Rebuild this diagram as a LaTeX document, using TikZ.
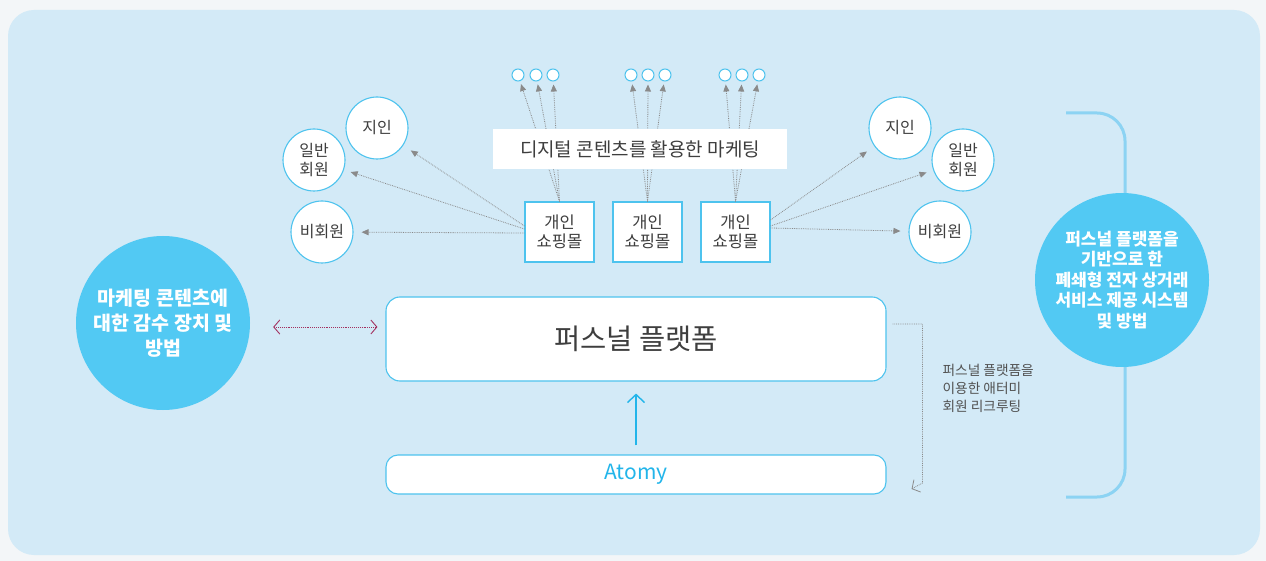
\documentclass[tikz,border=0pt]{standalone}
\usepackage{fontspec}
\setmainfont{Noto Sans CJK KR}
\usetikzlibrary{arrows.meta,positioning}
\definecolor{outerwhite}{HTML}{F3F6F8}
\definecolor{panelblue}{HTML}{D3EAF7}
\definecolor{edgecyan}{HTML}{4DC3EE}
\definecolor{bigblue}{HTML}{52C9F3}
\definecolor{bracketblue}{HTML}{8CD3F3}
\definecolor{atomycyan}{HTML}{22B5EA}
\definecolor{textgray}{HTML}{3E3E3E}
\definecolor{arrowgray}{HTML}{8A8A8A}
\definecolor{linkred}{HTML}{A3305F}
\tikzset{
  member/.style={circle, draw=edgecyan, fill=white, line width=1.1pt, minimum size=62pt, inner sep=0pt,
    align=center, text=textgray, font=\fontsize{16}{18.5}\selectfont},
  target/.style={circle, draw=edgecyan, fill=white, line width=1pt, minimum size=12pt, inner sep=0pt},
  shopbox/.style={rectangle, draw=edgecyan, fill=white, line width=1.1pt, minimum width=69pt, minimum height=60pt,
    inner sep=0pt, align=center, text=textgray, font=\fontsize{16.5}{19.5}\selectfont},
  platform/.style={rectangle, rounded corners=14pt, draw=edgecyan, fill=white, line width=1.1pt,
    minimum width=500pt, inner sep=0pt},
  bigcircle/.style={circle, fill=bigblue, minimum size=174pt, inner sep=0pt, align=center, text=white},
  reach/.style={arrowgray, densely dotted, line width=0.8pt, -{Triangle[length=7pt,width=6pt]}},
  duallink/.style={linkred, densely dotted, line width=0.9pt,
    {Straight Barb[length=6pt,width=14pt]}-{Straight Barb[length=6pt,width=14pt]}},
}

\begin{document}
\begin{tikzpicture}[x=1pt,y=-1pt]
   \useasboundingbox[fill=outerwhite] (0,0) rectangle (1266,561);
   \fill[panelblue, rounded corners=26pt] (8,10) rectangle (1260,555);
   % right bracket
   \draw[bracketblue, line width=3pt, rounded corners=28pt] (1066,113) -- (1125,113) -- (1125,497) -- (1066,497);

   % big circles
   \node[bigcircle, font=\bfseries\fontsize{19.5}{25}\selectfont] (claimL) at (163,323)
     {마케팅 콘텐츠에\\대한 감수 장치 및\\방법};
   \node[bigcircle, font=\bfseries\fontsize{17}{20.5}\selectfont] (claimR) at (1122,280)
     {퍼스널 플랫폼을\\기반으로 한\\폐쇄형 전자 상거래\\서비스 제공 시스템\\및 방법};

   % platform boxes
   \node[platform, minimum height=84pt, text=textgray, font=\fontsize{28.5}{32}\selectfont] (personal) at (636,339) {퍼스널 플랫폼};
   \node[platform, rounded corners=12pt, minimum height=39pt, text=atomycyan, font=\fontsize{21}{25}\selectfont] (atomy) at (636,474.5) {Atomy};
   \draw[atomycyan, line width=1.4pt, -{Straight Barb[length=8pt,width=17pt]}, shorten <=9pt, shorten >=12pt]
     (atomy.north) -- (personal.south);
   \draw[duallink] ([xshift=23pt,yshift=-4pt]claimL.east) -- ([xshift=-8pt,yshift=12pt]personal.west);
   \draw[arrowgray, densely dotted, line width=0.8pt, -{Straight Barb[length=6pt,width=14pt]}]
     ([xshift=6pt,yshift=15pt]personal.east) -| ([xshift=36pt,yshift=-8.5pt]atomy.east)
     -- ([xshift=25pt,yshift=-14.5pt]atomy.east);
   \node[anchor=west, align=left, text=textgray!90, font=\fontsize{13.7}{18}\selectfont] (recruit) at (939,388)
     {퍼스널 플랫폼을\\이용한 애터미\\회원 리크루팅};

   % personal shops
   \node[shopbox] (shopA) at (559.5,232) {개인\\쇼핑몰};
   \node[shopbox] (shopB) at (647.5,232) {개인\\쇼핑몰};
   \node[shopbox] (shopC) at (735.5,232) {개인\\쇼핑몰};

   % contents targets
   \node[target] (tA1) at (518,75) {};
   \node[target] (tA2) at (536,75) {};
   \node[target] (tA3) at (553,75) {};
   \node[target] (tB1) at (631,75) {};
   \node[target] (tB2) at (648,75) {};
   \node[target] (tB3) at (665,75) {};
   \node[target] (tC1) at (725,75) {};
   \node[target] (tC2) at (742,75) {};
   \node[target] (tC3) at (759,75) {};
   \foreach \s/\t in {shopA/tA1,shopA/tA2,shopA/tA3,shopB/tB1,shopB/tB2,shopB/tB3,shopC/tC1,shopC/tC2,shopC/tC3}
     \draw[reach, shorten >=3pt] (\s.north) -- (\t);
   \node[fill=white, minimum width=294pt, minimum height=40pt, inner sep=0pt, text=textgray,
     font=\fontsize{19}{22}\selectfont] (digital) at (640,149) {디지털 콘텐츠를 활용한 마케팅};

   % members
   \node[member] (friendL) at (377,128) {지인};
   \node[member] (regularL) at (314,160) {일반\\회원};
   \node[member] (guestL) at (322,232) {비회원};
   \node[member] (friendR) at (900,128) {지인};
   \node[member] (regularR) at (963,160) {일반\\회원};
   \node[member] (guestR) at (940,232) {비회원};
   \draw[reach, shorten >=9pt] ([yshift=6pt]shopA.west) -- (friendL);
   \draw[reach, shorten >=7pt] ([yshift=3pt]shopA.west) -- (regularL);
   \draw[reach, shorten >=8pt] ([yshift=-1pt]shopA.west) -- (guestL);
   \draw[reach, shorten >=9pt] ([yshift=12pt]shopC.east) -- (friendR);
   \draw[reach, shorten >=7pt] ([yshift=6pt]shopC.east) -- (regularR);
   \draw[reach, shorten >=8pt] ([yshift=4pt]shopC.east) -- (guestR);
\end{tikzpicture}
\end{document}
